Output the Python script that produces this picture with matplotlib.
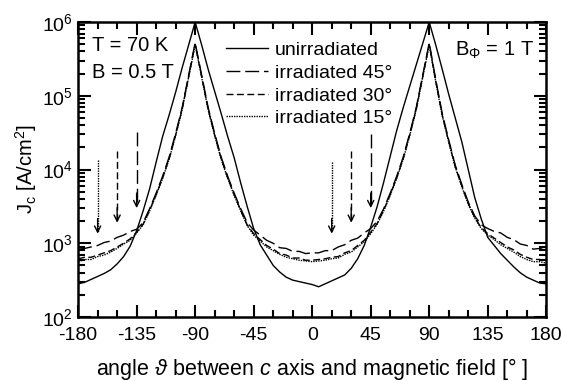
#!/usr/bin/env python

import numpy as np
import matplotlib
matplotlib.use("Agg")
import matplotlib.pyplot as plt
from matplotlib.ticker import MultipleLocator, LogLocator, NullFormatter

plt.rcParams['font.family'] = ['Liberation Sans', 'DejaVu Sans']
plt.rcParams['mathtext.fontset'] = 'custom'
plt.rcParams['mathtext.rm'] = 'Liberation Sans'
plt.rcParams['mathtext.it'] = 'Liberation Sans:italic'
plt.rcParams['axes.unicode_minus'] = False
plt.rcParams['lines.scale_dashes'] = False

# angle grid (deg), 5 deg step
angle = np.arange(-180, 181, 5)

# log10(Jc)
unirr = [2.45, 2.47, 2.51, 2.55, 2.59, 2.64, 2.72, 2.82, 2.96, 3.17,
         3.44, 3.74, 4.10, 4.45, 4.74, 5.05, 5.38, 5.69, 6.00, 5.69,
         5.36, 5.06, 4.76, 4.45, 4.16, 3.82, 3.50, 3.20, 2.98, 2.84,
         2.70, 2.61, 2.54, 2.50, 2.48, 2.46, 2.44, 2.41, 2.45, 2.49,
         2.53, 2.57, 2.66, 2.79, 2.97, 3.22, 3.50, 3.83, 4.18, 4.53,
         4.84, 5.13, 5.42, 5.71, 6.00, 5.69, 5.36, 5.02, 4.70, 4.38,
         4.00, 3.62, 3.33, 3.08, 2.97, 2.86, 2.77, 2.68, 2.60, 2.54,
         2.50, 2.46, 2.45]

irr45 = [2.92, 2.93, 2.95, 2.97, 3.01, 3.03, 3.08, 3.11, 3.16, 3.19,
         3.28, 3.47, 3.68, 3.91, 4.17, 4.49, 4.84, 5.28, 5.72, 5.28,
         4.84, 4.49, 4.17, 3.91, 3.68, 3.47, 3.28, 3.18, 3.11, 3.04,
         3.00, 2.94, 2.93, 2.89, 2.89, 2.86, 2.87, 2.87, 2.90, 2.90,
         2.95, 2.98, 3.04, 3.07, 3.14, 3.20, 3.30, 3.47, 3.68, 3.91,
         4.17, 4.49, 4.84, 5.28, 5.72, 5.22, 4.76, 4.40, 4.06, 3.80,
         3.56, 3.37, 3.25, 3.20, 3.16, 3.14, 3.08, 3.05, 2.99, 2.97,
         2.92, 2.93, 2.90]

irr30 = [2.79, 2.81, 2.81, 2.84, 2.87, 2.90, 2.95, 3.00, 3.06, 3.15,
         3.26, 3.45, 3.66, 3.89, 4.15, 4.47, 4.82, 5.26, 5.70, 5.26,
         4.82, 4.47, 4.15, 3.89, 3.66, 3.45, 3.25, 3.13, 3.05, 2.97,
         2.92, 2.86, 2.84, 2.80, 2.80, 2.77, 2.77, 2.78, 2.79, 2.81,
         2.82, 2.87, 2.90, 2.97, 3.04, 3.15, 3.27, 3.45, 3.66, 3.89,
         4.15, 4.47, 4.82, 5.26, 5.70, 5.20, 4.74, 4.38, 4.04, 3.78,
         3.54, 3.35, 3.21, 3.13, 3.07, 3.01, 2.95, 2.91, 2.85, 2.81,
         2.78, 2.78, 2.76]

irr15 = [2.75, 2.78, 2.78, 2.82, 2.84, 2.88, 2.93, 2.99, 3.04, 3.14,
         3.25, 3.44, 3.65, 3.88, 4.14, 4.46, 4.81, 5.25, 5.69, 5.25,
         4.81, 4.46, 4.14, 3.88, 3.65, 3.44, 3.24, 3.11, 3.03, 2.95,
         2.90, 2.85, 2.81, 2.79, 2.77, 2.76, 2.75, 2.76, 2.77, 2.79,
         2.80, 2.85, 2.88, 2.95, 3.02, 3.13, 3.26, 3.44, 3.65, 3.88,
         4.14, 4.46, 4.81, 5.25, 5.69, 5.19, 4.73, 4.37, 4.03, 3.77,
         3.53, 3.34, 3.20, 3.11, 3.05, 2.98, 2.93, 2.88, 2.82, 2.78,
         2.75, 2.75, 2.73]

labels = ["unirradiated", "irradiated 45°", "irradiated 30°", "irradiated 15°"]
dashes = [None, (10, 3.5), (5, 2.5), (1, 0.8)]

# arrows: angle, top (A/cm2), tip (A/cm2)
arrow_angle = [-165, -150, -135, 15, 30, 45]
arrow_top = [1.35e4, 1.8e4, 3.2e4, 1.25e4, 1.8e4, 3.0e4]
arrow_tip = [1.35e3, 1.9e3, 3.0e3, 1.35e3, 1.9e3, 3.0e3]
arrow_style = [(1, 0.8), (5, 2.5), (10, 3.5), (1, 0.8), (5, 2.5), (10, 3.5)]


fig = plt.figure(figsize=(5.62, 3.81), dpi=100)
ax = fig.add_axes([0.139, 0.168, 0.833, 0.774])

for vals, lab, d in zip([unirr, irr45, irr30, irr15], labels, dashes):
    jc = 10 ** np.array(vals)
    if d is None:
        ax.plot(angle, jc, color='black', lw=1.0, label=lab)
    else:
        ax.plot(angle, jc, color='black', lw=1.0, dashes=d, label=lab)

for a, top, tip, st in zip(arrow_angle, arrow_top, arrow_tip, arrow_style):
    ax.plot([a, a], [top, tip * 1.05], color='black', lw=1.0, dashes=st)
    ax.annotate("", xy=(a, tip), xytext=(a, tip * 1.6),
                arrowprops=dict(arrowstyle='->', color='black', lw=1.0,
                                mutation_scale=11, shrinkA=0, shrinkB=0))

ax.set_yscale('log')
ax.set_xlim(-180, 180)
ax.set_ylim(1e2, 1e6)
ax.xaxis.set_major_locator(MultipleLocator(45))
ax.xaxis.set_minor_locator(MultipleLocator(15))
ax.yaxis.set_major_locator(LogLocator(base=10))
ax.yaxis.set_minor_locator(LogLocator(base=10, subs=np.arange(2, 10)))
ax.yaxis.set_minor_formatter(NullFormatter())
ax.tick_params(which='both', direction='in', top=True, right=True,
               labelsize=14, width=1.5)
ax.tick_params(axis='x', pad=7)
ax.tick_params(axis='y', pad=4)
ax.tick_params(which='major', length=9)
ax.tick_params(which='minor', length=5)
for s in ax.spines.values():
    s.set_linewidth(1.8)

ax.set_xlabel(r"angle $\vartheta$ between $c$ axis and magnetic field [° ]",
              fontsize=15.5, labelpad=9)
ax.set_ylabel(r"J$_\mathrm{c}$ [A/cm$^2$]", fontsize=14.5, labelpad=2)

ax.text(0.03, 0.92, "T = 70 K", transform=ax.transAxes, fontsize=14.5,
        va='center')
ax.text(0.03, 0.83, "B = 0.5 T", transform=ax.transAxes, fontsize=14.5,
        va='center')
ax.text(0.806, 0.905, r"B$_\Phi$ = 1 T", transform=ax.transAxes, fontsize=14.5,
        va='center')

ax.legend(loc='upper left', bbox_to_anchor=(0.30, 0.96), frameon=False,
          fontsize=14, handlelength=2.15, handletextpad=0.36,
          labelspacing=0.26, borderaxespad=0)

fig.savefig("out.png", dpi=100)
